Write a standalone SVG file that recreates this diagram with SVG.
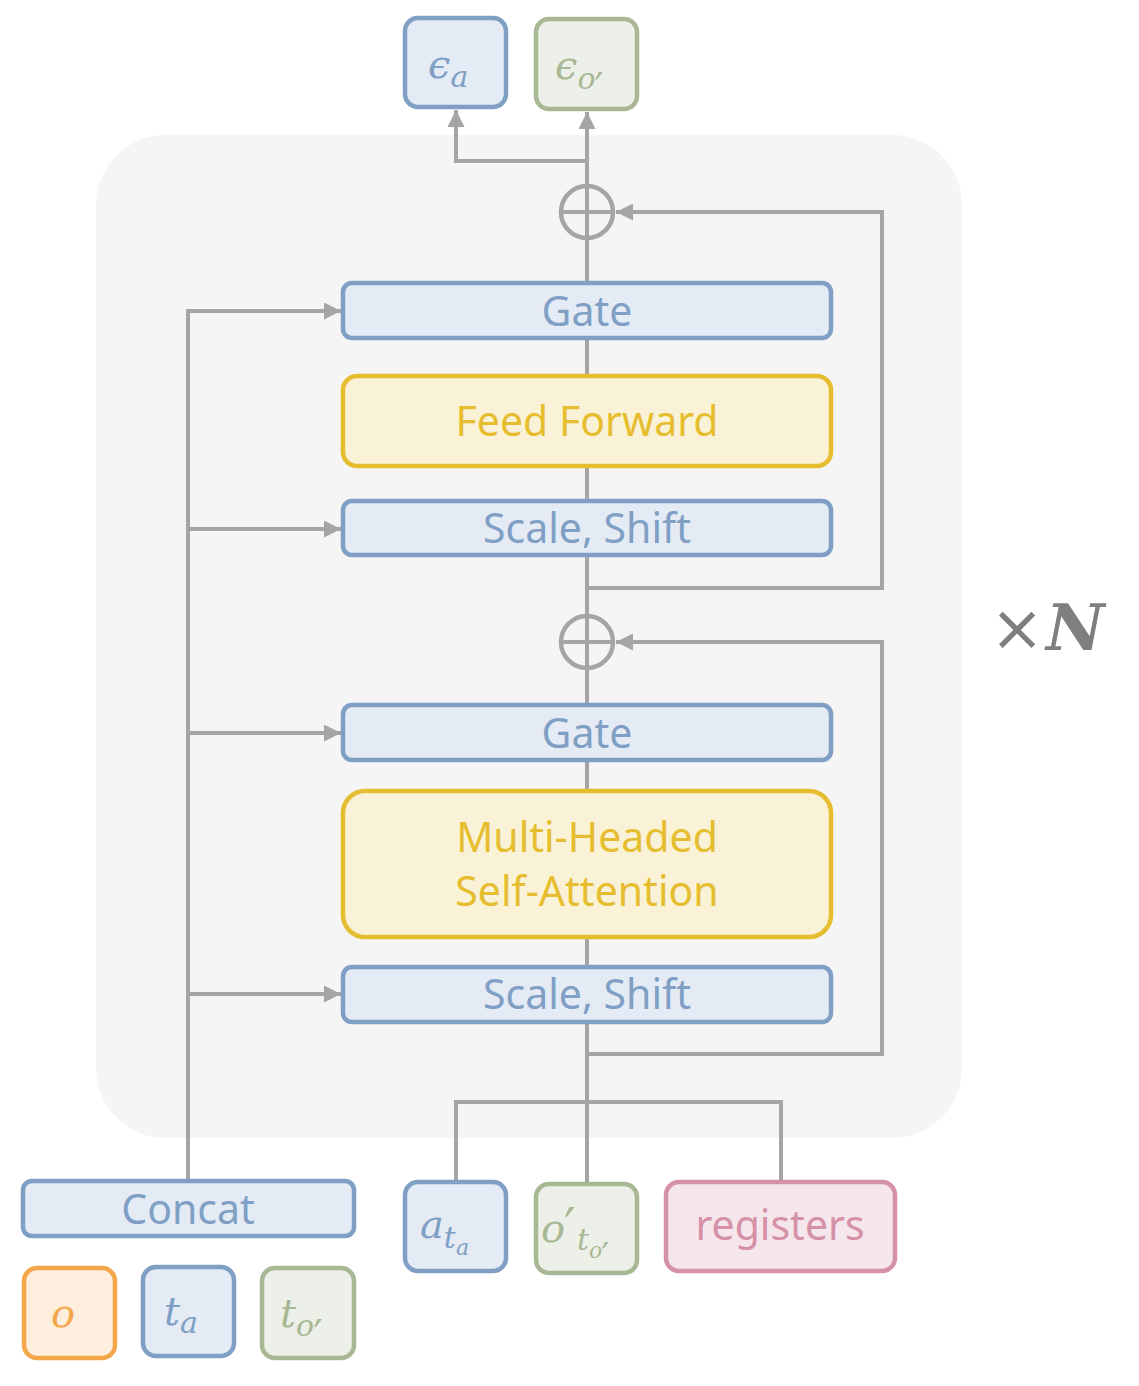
<svg xmlns="http://www.w3.org/2000/svg" width="1139" height="1386" viewBox="0 0 1139 1386">
<defs>
<style>
.bl{fill:#e4ebf4;stroke:#7f9fc5;stroke-width:4.5}
.gr{fill:#edf0e8;stroke:#a8b894;stroke-width:4.5}
.or{fill:#fdeedd;stroke:#f4a64a;stroke-width:4.5}
.pk{fill:#f5e6ec;stroke:#d591a6;stroke-width:4.5}
.ye{fill:#faf2d6;stroke:#e6bd2f;stroke-width:4.5}
.lbl{font-family:"Noto Sans","Open Sans",sans-serif;font-size:41px;text-anchor:middle}
.tb{fill:#7f9fc5}
.ty{fill:#e6bd2f}
.tg{fill:#a8b894}
.to{fill:#f4a64a}
.tp{fill:#d591a6}
.m{font-family:"DejaVu Serif","Liberation Serif",serif;font-style:italic}
.pr{font-family:"DejaVu Sans",sans-serif;font-style:normal}
.ln{fill:none;stroke:#a5a5a5;stroke-width:4}
</style>
<marker id="ah" viewBox="0 0 10 10" refX="10" refY="5" markerWidth="17" markerHeight="17" markerUnits="userSpaceOnUse" orient="auto">
<path d="M0,0 L10,5 L0,10 z" fill="#a5a5a5"/>
</marker>
</defs>
<rect x="0" y="0" width="1139" height="1386" fill="#ffffff"/>
<rect id="block" x="96" y="135" width="866" height="1003" rx="70" fill="#f5f5f5"/>

<g id="connectors">
<polyline class="ln" points="587,212 587,161 456,161 456,110" marker-end="url(#ah)"/>
<line class="ln" x1="587" y1="185" x2="587" y2="112" marker-end="url(#ah)"/>
<line class="ln" x1="587" y1="239" x2="587" y2="283"/>
<line class="ln" x1="587" y1="338" x2="587" y2="376"/>
<line class="ln" x1="587" y1="466" x2="587" y2="501"/>
<line class="ln" x1="587" y1="555" x2="587" y2="615"/>
<line class="ln" x1="587" y1="669" x2="587" y2="705"/>
<line class="ln" x1="587" y1="760" x2="587" y2="791"/>
<line class="ln" x1="587" y1="937" x2="587" y2="967"/>
<line class="ln" x1="587" y1="1022" x2="587" y2="1183"/>
<polyline class="ln" points="589,588 882,588 882,212 616,212" marker-end="url(#ah)"/>
<polyline class="ln" points="589,1054 882,1054 882,642 616,642" marker-end="url(#ah)"/>
<polyline class="ln" points="456,1181 456,1102 781,1102 781,1181"/>
<polyline class="ln" points="188,1180 188,311 341,311" marker-end="url(#ah)"/>
<line class="ln" x1="188" y1="529" x2="341" y2="529" marker-end="url(#ah)"/>
<line class="ln" x1="188" y1="733" x2="341" y2="733" marker-end="url(#ah)"/>
<line class="ln" x1="188" y1="994" x2="341" y2="994" marker-end="url(#ah)"/>
</g>

<g id="sum1">
<circle cx="587" cy="212" r="26" fill="none" stroke="#a5a5a5" stroke-width="4.5"/>
<line class="ln" x1="561" y1="212" x2="613" y2="212"/>
<line class="ln" x1="587" y1="186" x2="587" y2="238"/>
</g>
<g id="sum2">
<circle cx="587" cy="642" r="26" fill="none" stroke="#a5a5a5" stroke-width="4.5"/>
<line class="ln" x1="561" y1="642" x2="613" y2="642"/>
<line class="ln" x1="587" y1="616" x2="587" y2="668"/>
</g>

<g id="eps_a">
<rect class="bl" x="405" y="18" width="101" height="89" rx="13"/>
<text class="m tb" x="428" y="78" font-size="40">ϵ<tspan font-size="30" dy="9">a</tspan></text>
</g>
<g id="eps_o">
<rect class="gr" x="536" y="19" width="101" height="90" rx="13"/>
<text class="m tg" x="555" y="79" font-size="40">ϵ<tspan font-size="30" dy="10">o</tspan><tspan class="pr" font-size="40" dx="-1" dy="13">′</tspan></text>
</g>

<g id="gate1">
<rect class="bl" x="343" y="283" width="488" height="55" rx="9"/>
<text class="lbl tb" x="587" y="326">Gate</text>
</g>
<g id="ff">
<rect class="ye" x="343" y="376" width="488" height="90" rx="14"/>
<text class="lbl ty" x="587" y="436">Feed Forward</text>
</g>
<g id="ss1">
<rect class="bl" x="343" y="501" width="488" height="54" rx="9"/>
<text class="lbl tb" x="587" y="543">Scale, Shift</text>
</g>
<g id="gate2">
<rect class="bl" x="343" y="705" width="488" height="55" rx="9"/>
<text class="lbl tb" x="587" y="748">Gate</text>
</g>
<g id="mhsa">
<rect class="ye" x="343" y="791" width="488" height="146" rx="22"/>
<text class="lbl ty" x="587" y="852">Multi-Headed</text>
<text class="lbl ty" x="587" y="906">Self-Attention</text>
</g>
<g id="ss2">
<rect class="bl" x="343" y="967" width="488" height="55" rx="9"/>
<text class="lbl tb" x="587" y="1009">Scale, Shift</text>
</g>

<g id="times_n">
<text x="1017" y="650" font-family="DejaVu Sans,sans-serif" font-size="64" fill="#7f7f7f" text-anchor="middle">×</text>
<text x="1046" y="650" font-family="DejaVu Serif,serif" font-style="italic" font-weight="bold" font-size="64" fill="#7f7f7f">N</text>
</g>

<g id="concat">
<rect class="bl" x="23" y="1181" width="331" height="55" rx="9"/>
<text class="lbl tb" x="188" y="1224">Concat</text>
</g>
<g id="in_o">
<rect class="or" x="24" y="1268" width="91" height="90" rx="13"/>
<text class="m to" x="63" y="1327" font-size="40" text-anchor="middle">o</text>
</g>
<g id="in_ta">
<rect class="bl" x="143" y="1267" width="91" height="89" rx="13"/>
<text class="m tb" x="164" y="1325" font-size="40">t<tspan font-size="30" dy="8">a</tspan></text>
</g>
<g id="in_to">
<rect class="gr" x="262" y="1268" width="92" height="90" rx="13"/>
<text class="m tg" x="280" y="1327" font-size="40">t<tspan font-size="30" dy="9">o</tspan><tspan class="pr" font-size="42" dx="-1" dy="14">′</tspan></text>
</g>

<g id="in_a">
<rect class="bl" x="405" y="1182" width="101" height="89" rx="13"/>
<text class="m tb" x="420" y="1238" font-size="40">a<tspan font-size="30" dy="10">t</tspan><tspan font-size="22" dy="7">a</tspan></text>
</g>
<g id="in_op">
<rect class="gr" x="536" y="1184" width="101" height="89" rx="13"/>
<text class="m tg" x="541" y="1242" font-size="40">o<tspan class="pr" font-size="52" dx="-1" dy="3">′</tspan><tspan font-size="30" dx="1" dy="5">t</tspan><tspan font-size="22" dy="8">o</tspan><tspan class="pr" font-size="36" dx="-1" dy="10">′</tspan></text>
</g>
<g id="registers">
<rect class="pk" x="666" y="1182" width="229" height="89" rx="13"/>
<text class="lbl tp" x="780" y="1240">registers</text>
</g>
</svg>
